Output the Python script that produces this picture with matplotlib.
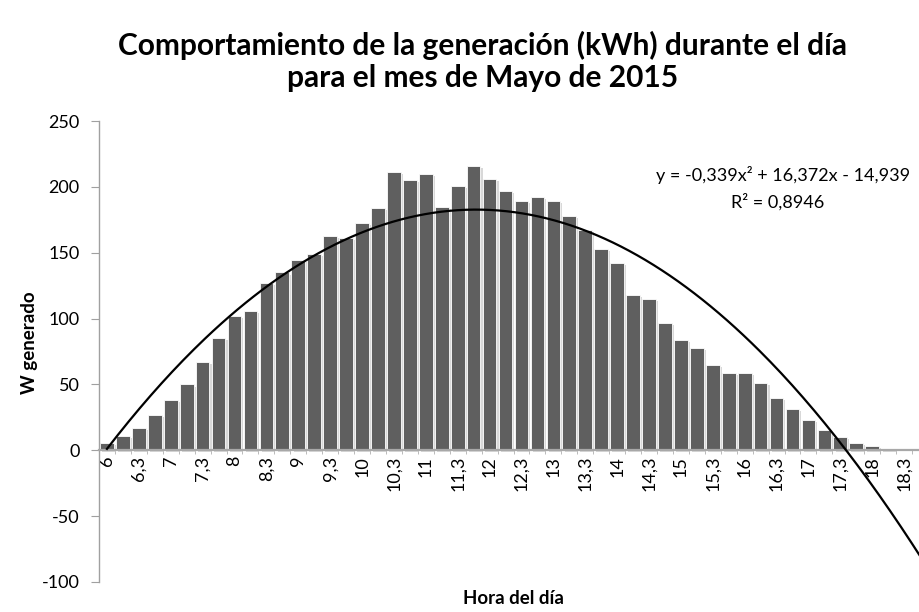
import matplotlib
matplotlib.use('Agg')
import matplotlib.pyplot as plt
import matplotlib.patheffects as pe
import numpy as np

plt.rcParams['font.family'] = ['Lato', 'DejaVu Sans']
plt.rcParams['axes.unicode_minus'] = False

# Data: generation per quarter hour, 6:00 .. 18:45
generation = [5.5, 11, 17, 27, 38, 50, 67, 85, 102, 105.5,
              127, 135, 144.5, 149, 163, 161, 172.6, 184, 211, 205.5,
              210, 184.7, 200.5, 215.6, 206, 197, 189.6, 192, 189, 177.7,
              167, 153, 142, 118, 115, 96.7, 83.5, 77.7, 64.5, 58.7,
              58.5, 51, 39.7, 31.6, 22.8, 15.7, 9.9, 5.6, 3, 1.3,
              0, 0]
# every other category gets a label in the original
tick_labels = ["6", "6,3", "7", "7,3", "8", "8,3", "9", "9,3", "10", "10,3",
               "11", "11,3", "12", "12,3", "13", "13,3", "14", "14,3", "15", "15,3",
               "16", "16,3", "17", "17,3", "18", "18,3"]
# polynomial trend (Excel) as printed on the chart
trend_coef = [-0.339, 16.372, -14.939]
eq_text = "y = -0,339x² + 16,372x - 14,939"
r2_text = "R² = 0,8946"

fig = plt.figure(figsize=(9.2, 6.12), dpi=100)
ax = fig.add_axes([99/920, 30/612, 829/920, 461/612])

# spine position first, it resets the ticks
for s in ['top', 'right']:
    ax.spines[s].set_visible(False)
ax.spines['bottom'].set_position(('data', 0))
ax.spines['bottom'].set_color('#a8a8a8')
ax.spines['bottom'].set_linewidth(1.6)
ax.spines['left'].set_color('#a0a0a0')
ax.spines['left'].set_linewidth(1.0)

x = np.arange(1, len(generation) + 1)
bars = ax.bar(x, generation, width=0.86, color='#5f5f5f', edgecolor='white',
              linewidth=0.6, zorder=2)
for b in bars:
    b.set_path_effects([pe.SimplePatchShadow(offset=(1.5, -1.5), shadow_rgbFace='#c8c8c8', alpha=0.7),
                        pe.Normal()])

xt = np.linspace(1, len(generation), 300)
ax.plot(xt, np.polyval(trend_coef, xt), color='black', lw=1.6, zorder=3)

ax.set_xlim(0.5, len(generation) + 0.5)
ax.set_ylim(-100, 250)
ax.set_yticks(np.arange(-100, 251, 50))

ax.set_xticks(x[::2])
ax.set_xticklabels(tick_labels, rotation=90, fontsize=13)
ax.set_xticks(np.arange(1.5, len(generation), 1), minor=True)
ax.tick_params(axis='x', which='major', length=0, pad=4)
ax.tick_params(axis='x', which='minor', length=3, color='#b0b0b0')
ax.tick_params(axis='y', length=6, color='#a0a0a0', labelsize=13, pad=8)

fig.text(910/920, 1 - 175/612, eq_text, fontsize=13, ha='right', va='center')
fig.text(778/920, 1 - 202/612, r2_text, fontsize=13, ha='center', va='center')

fig.text(483/920, 1 - 45/612, "Comportamiento de la generación (kWh) durante el día",
         fontsize=21.5, fontweight='bold', ha='center', va='center')
fig.text(483/920, 1 - 78/612, "para el mes de Mayo de 2015",
         fontsize=21.5, fontweight='bold', ha='center', va='center')
fig.text(30/920, 1 - 343/612, "W generado", rotation=90, fontsize=13.5,
         fontweight='bold', ha='center', va='center')
fig.text(513/920, 1 - 598/612, "Hora del día", fontsize=13.5,
         fontweight='bold', ha='center', va='center')

fig.savefig('out.png', dpi=100)
